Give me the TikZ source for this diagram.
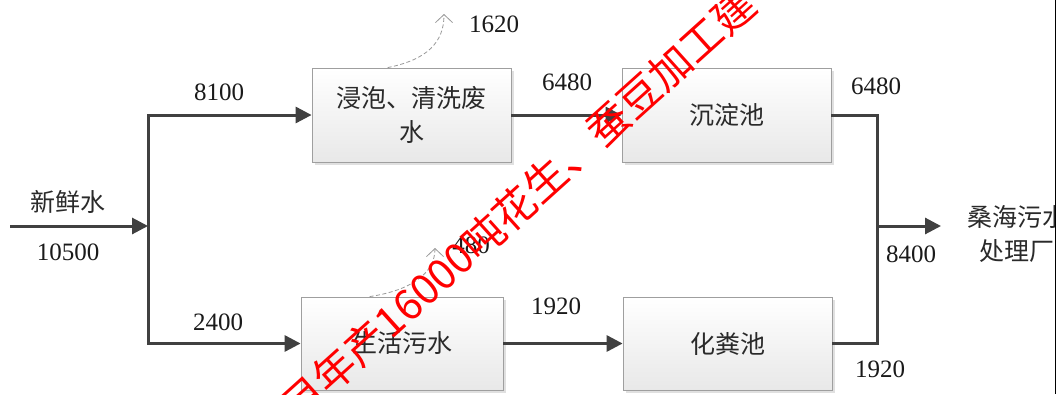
\documentclass[tikz,border=0pt]{standalone}
\usepackage{fontspec}
\setmainfont{Liberation Serif}
\newfontfamily\cjk{Noto Sans CJK SC}
\usetikzlibrary{arrows.meta,shadows}
\definecolor{ln}{HTML}{404040}
\definecolor{txt}{HTML}{1A1A1A}
\definecolor{zhtxt}{HTML}{2A2A2A}
\begin{document}
\begin{tikzpicture}[x=1pt,y=-1pt,
  box/.style={draw=gray!75, line width=0.8pt, top color=white, bottom color=gray!18,
    drop shadow={shadow xshift=3pt,shadow yshift=-3pt,fill=gray!40,opacity=0.6},
    inner sep=0pt, text=zhtxt, align=center, font=\cjk\fontsize{25}{34}\selectfont},
  num/.style={font=\fontsize{25}{25}\selectfont, text=txt, inner sep=0pt},
  zh/.style={font=\cjk\fontsize{25}{34}\selectfont, text=zhtxt, inner sep=0pt, align=center},
  flow/.style={draw=ln, line width=3pt, -{Triangle[length=16pt,width=16pt]}},
  plain/.style={draw=ln, line width=3pt},
  loss/.style={draw=gray!80, line width=0.8pt, dash pattern=on 4pt off 2.5pt, -{Straight Barb[length=8pt,width=17pt]}}
]
\useasboundingbox (0,0) rectangle (1062,394);
\fill[white] (0,0) rectangle (1062,394);
\begin{scope}
\clip (0,0) rectangle (1055,394);
% boxes
\node[box, minimum width=199pt, minimum height=94pt] (b1) at (411.5,115) {浸泡、清洗废\\水};
\node[box, minimum width=209pt, minimum height=94pt] (b2) at (726.5,115) {沉淀池};
\node[box, minimum width=202pt, minimum height=93pt] (b3) at (402,343.5) {生活污水};
\node[box, minimum width=209pt, minimum height=93pt] (b4) at (727.5,343.5) {化粪池};
% coordinates
\coordinate (src) at (10,226);
\coordinate (jl) at (148,226);
\coordinate (jr) at (877,226);
\coordinate (out) at (941,226);
\coordinate (l1) at (444,14);
\coordinate (l2) at (435,248);
% connectors
\draw[flow] (src) -- (jl);
\draw[flow] (jl) |- (b1.west);
\draw[flow] (jl) |- (b3.west);
\draw[flow] (b1) -- (b2);
\draw[flow] (b3) -- (b4);
\draw[plain] (b2.east) -| (jr);
\draw[plain] (b4.east) -| (jr);
\draw[flow] (jr) -- (out);
\draw[loss] ([xshift=76pt]b1.north west) .. controls +(40,-8) and +(0,28) .. (l1);
\draw[loss] ([xshift=69pt]b3.north west) .. controls +(40,-6) and +(0,26) .. (l2);
% labels
\node[zh] (fresh) at (68,202) {新鲜水};
\node[num] (n10500) at (68,252) {10500};
\node[num] (n8100) at (219,92) {8100};
\node[num] (n2400) at (218,322) {2400};
\node[num] (n6480a) at (567,82) {6480};
\node[num] (n1620) at (494,24) {1620};
\node[num] (n6480b) at (876,86) {6480};
\node[num] (n1920a) at (556,306) {1920};
\node[num] (n480) at (471,245) {480};
\node[num] (n1920b) at (880,369) {1920};
\node[num] (n8400) at (911,254) {8400};
\node[zh] (dest) at (1017,234) {桑海污水\\处理厂};
% watermark
\node[rotate=42, text=red, font=\cjk\fontsize{42}{42}\selectfont, inner sep=0pt] (wm) at (518,205) {目年产16000吨花生、蚕豆加工建};
\end{scope}
\draw[black, line width=1.5pt] (1055.5,0) -- (1055.5,394);
\end{tikzpicture}
\end{document}
